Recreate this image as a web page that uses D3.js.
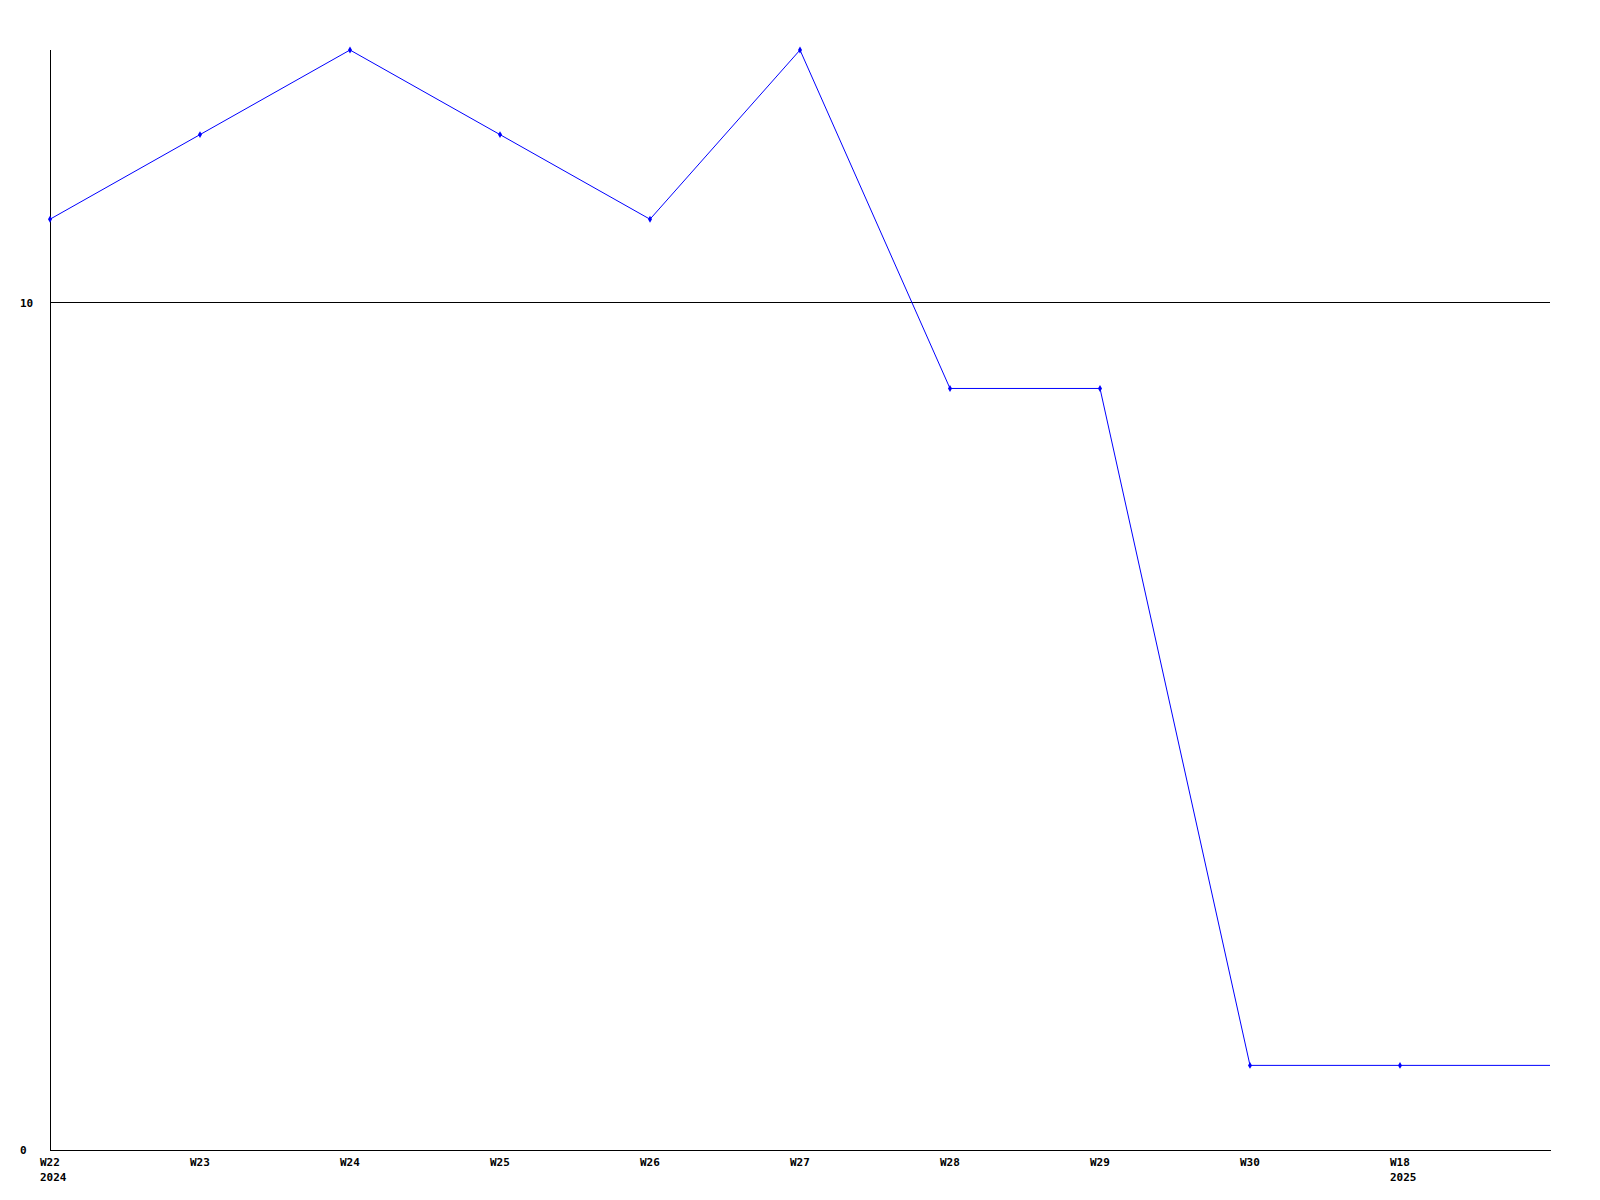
<!DOCTYPE html>
<html><head><meta charset="utf-8">
<script src="https://cdn.jsdelivr.net/npm/d3@7"></script>
<style>body{margin:0;background:#fff}svg{display:block}text{font-family:"DejaVu Sans Mono",monospace;font-weight:bold;font-size:11px;fill:#000}</style>
</head><body>
<script>
const weeks = ["W22","W23","W24","W25","W26","W27","W28","W29","W30","W18",""];
const years = ["2024","","","","","","","","","2025",""];
const values = [11,12,13,12,11,13,9,9,1,1,1];
const yTicks = [0,10];

(function(){
const W=1600,H=1200;
const mLeft=50,mRight=1550,mTop=50,mBottom=1150;
const svg=d3.select("body").append("svg").attr("width",W).attr("height",H);
const x=d3.scaleLinear().domain([0,weeks.length-1]).range([mLeft,mRight]);
const y=d3.scaleLinear().domain([0,13]).range([mBottom,mTop]);

svg.selectAll("line.grid").data(yTicks.filter(d=>d>0)).join("line").attr("class","grid")
  .attr("x1",mLeft).attr("x2",mRight).attr("y1",d=>Math.floor(y(d))-0.5).attr("y2",d=>Math.floor(y(d))-0.5)
  .attr("stroke","#000").attr("stroke-width",1);
svg.append("line").attr("x1",mLeft+0.5).attr("x2",mLeft+0.5).attr("y1",mTop).attr("y2",mBottom+0.5).attr("stroke","#000");
svg.append("line").attr("x1",mLeft).attr("x2",mRight+1).attr("y1",mBottom+0.5).attr("y2",mBottom+0.5).attr("stroke","#000");

svg.selectAll("text.yl").data(yTicks).join("text").attr("class","yl")
  .attr("x",20).attr("y",d=>Math.floor(y(d))).attr("dy","0.35em").text(d=>d);

const xl=svg.selectAll("g.xl").data(weeks.map((w,i)=>({w,yr:years[i],i}))).join("g").attr("class","xl")
  .attr("transform",d=>`translate(${x(d.i)-10},0)`);
xl.append("text").attr("y",1162).attr("dy","0.35em").text(d=>d.w);
xl.append("text").attr("y",1177).attr("dy","0.35em").text(d=>d.yr);

const line=d3.line().x((d,i)=>x(i)).y(d=>y(d));
svg.append("path").datum(values).attr("d",line).attr("fill","none").attr("stroke","#0000ff").attr("stroke-width",1);

svg.selectAll("path.m").data(values.slice(0,weeks.length-1)).join("path").attr("class","m")
  .attr("d",d3.symbol(d3.symbolDiamond,14)).attr("transform",(d,i)=>`translate(${x(i)},${y(d)})`)
  .attr("fill","#0000ff");
})();
</script>
</body></html>
